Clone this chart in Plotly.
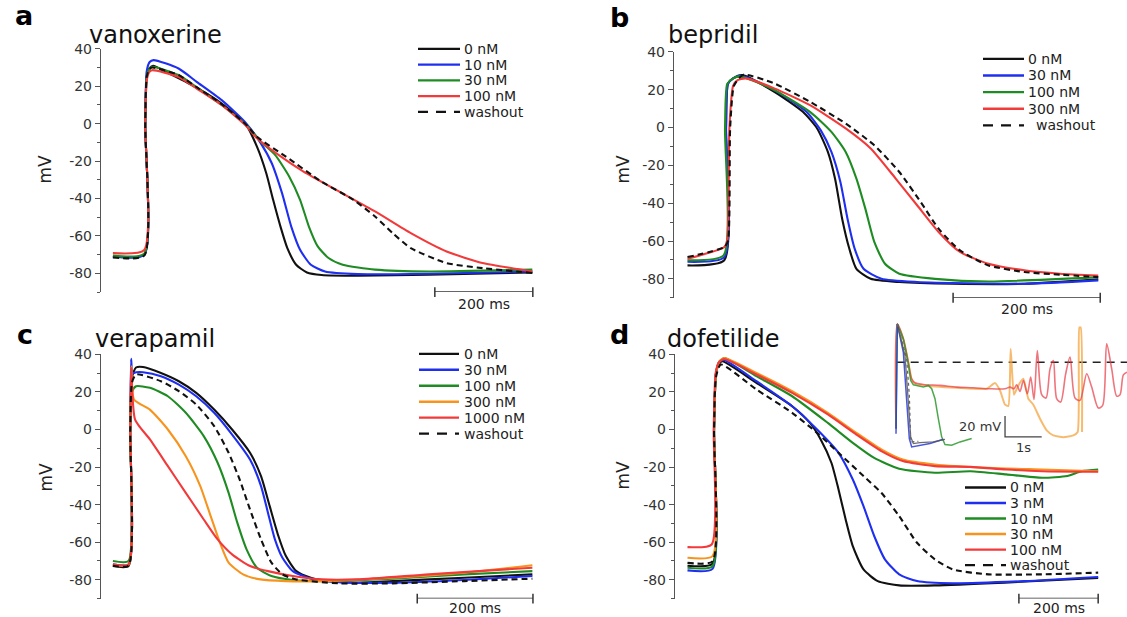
import plotly.graph_objects as go

W, H = 1127, 617
FONT = "DejaVu Sans"

# ---------------------------------------------------------------- data
TICK_VALS = [40, 20, 0, -20, -40, -60, -80]
TICK_TEXT = ["40", "20", "0", "-20", "-40", "-60", "-80"]
MINOR_VALS = [30, 10, -10, -30, -50, -70, -90]

# ---- panel a : vanoxerine (time ms, voltage mV)
A_TITLE = "vanoxerine"
A_LABELS = ["0 nM", "10 nM", "30 nM", "100 nM", "washout"]
A0_T = [0, 64, 66, 69, 74, 82, 110, 170, 222, 272, 294, 313, 327, 342, 356, 374, 396, 426, 500, 645, 856]
A0_V = [-71, -70, 0, 25, 29.5, 31, 27.5, 19.4, 10.8, -0.7, -12.3, -26.5, -40.7, -55, -66.5, -75.4, -79.5, -80.9, -81.3, -80.7, -79.5]
A1_T = [0, 64, 66, 69, 75, 83, 134, 171, 222, 272, 302, 324, 345, 364, 382, 404, 433, 500, 645, 856]
A1_V = [-71, -70, 0, 28, 33, 34, 29.5, 22.4, 12.6, 0.2, -10.5, -21, -37, -55, -67.4, -75.4, -79, -80.4, -80.2, -79]
A2_T = [0, 64, 66, 69, 74, 80, 134, 171, 222, 272, 302, 331, 360, 382, 400, 418, 440, 469, 535, 645, 856]
A2_V = [-70.5, -69.5, 0, 25, 29, 30.4, 26, 19.4, 10, -0.7, -9.6, -16.7, -28.3, -40.7, -55, -65.6, -71.8, -75.4, -78, -79, -78]
A3_T = [0, 64, 66, 69, 74, 80, 134, 171, 222, 272, 294, 338, 389, 462, 535, 608, 681, 754, 826, 856]
A3_V = [-69.2, -67.5, 0, 23, 27.5, 28.6, 25, 18.8, 10, -1.2, -7.8, -16.7, -25.6, -36.3, -46.9, -58.5, -68.3, -74.5, -77.7, -79]
A4_T = [0, 64, 66, 69, 74, 80, 134, 171, 222, 272, 294, 353, 426, 491, 535, 571, 608, 681, 754, 856]
A4_V = [-71.5, -70.5, 0, 25, 29, 30, 26, 19.5, 10.5, -0.5, -7, -17.6, -31, -40.7, -49.6, -58.5, -66.5, -74.5, -77.2, -79.8]
A_SCALE_T = [657, 857]

# ---- panel b : bepridil
B_TITLE = "bepridil"
B_LABELS = ["0 nM", "30 nM", "100 nM", "300 nM", "washout"]
B0_T = [0, 50, 52.4, 55, 62, 74.3, 118, 156.8, 176.2, 190.8, 200.5, 210.2, 219.9, 229.6, 249, 287.9, 360.7, 457.8, 558.3]
B0_V = [-72.9, -70.2, 0, 23.3, 26, 27.7, 18.9, 8.3, -0.5, -12.9, -27, -48.2, -64, -74.7, -80, -81.7, -82.6, -82.6, -80.3]
B1_T = [0, 50, 52.4, 55, 62, 72, 118, 161.7, 181, 195.6, 207.8, 217.5, 227.2, 239.3, 263.6, 312.1, 457.8, 558.3]
B1_V = [-71, -68.5, 0, 23, 26, 27.5, 19.8, 8.3, -1.4, -12.9, -28.8, -48.2, -64, -74.7, -80, -81.7, -82.6, -80.8]
B2_T = [0, 49, 51, 54, 62, 72, 118, 166.5, 195.6, 215, 229.6, 241.7, 253.9, 268.4, 287.9, 336.4, 409.2, 558.3]
B2_V = [-70.2, -67.6, 0, 23, 26, 27, 19.8, 8.3, -2.3, -12.9, -27, -42.9, -60.5, -72, -77.3, -80, -81.4, -79.1]
B3_T = [0, 50, 54, 57, 62, 68, 79, 118, 166.5, 215, 249, 283, 312.1, 341.3, 370.4, 409.2, 457.8, 506.3, 558.3]
B3_V = [-69.4, -63.2, -59.7, 0, 22, 25, 26, 20.7, 11.8, -0.5, -11.1, -27, -41.1, -55.2, -65.8, -72, -75.5, -77.3, -78.2]
B4_T = [0, 50, 55, 58, 63, 70, 77, 118, 166.5, 215, 253.9, 287.9, 317, 341.3, 370.4, 409.2, 457.8, 506.3, 558.3]
B4_V = [-68.5, -63.2, -60, 0, 22, 26, 28, 23.3, 13.6, 2.1, -9.4, -23.5, -39.4, -53.5, -65, -72.9, -76.4, -77.8, -79.1]
B_SCALE_T = [361, 561]

# ---- panel c : verapamil
C_TITLE = "verapamil"
C_LABELS = ["0 nM", "30 nM", "100 nM", "300 nM", "1000 nM", "washout"]
C0_T = [0, 27, 30, 33, 40, 52, 83, 114, 144, 175, 206, 237, 256, 271, 286, 299, 317, 342, 373, 422, 484, 607, 725]
C0_V = [-72.7, -72.7, 0, 28, 33, 33.3, 30.1, 25.7, 19.5, 10.6, 0, -12.4, -24.8, -40.8, -56.7, -67.4, -75.4, -78.9, -80.7, -81.6, -80.7, -78.9, -77.1]
C1_T = [0, 27, 30, 31.5, 34, 40, 52, 83, 114, 144, 175, 206, 237, 256, 268, 280, 293, 311, 342, 391, 484, 607, 725]
C1_V = [-71.8, -71.8, 0, 37.6, 30, 30.5, 30.5, 28.4, 23.9, 17.7, 8.9, -2.7, -16, -30.1, -44.3, -58.5, -68.3, -75.4, -79.4, -81.2, -81.6, -80.1, -78]
C2_T = [0, 27, 30, 33, 40, 64, 95, 126, 157, 181, 200, 215, 231, 249, 274, 311, 361, 484, 607, 725]
C2_V = [-70, -70, 0, 20, 23, 22.2, 17.7, 8.9, -3.5, -17.7, -33.7, -49.6, -63.8, -73.6, -78, -80.1, -80.7, -79.4, -77.1, -75.4]
C3_T = [0, 27, 30, 32, 36.4, 64, 95, 126, 151, 169, 185, 200, 225, 255, 299, 361, 484, 607, 725]
C3_V = [-72, -72, 0, 33.7, 16, 10.6, 0, -14.2, -30.1, -46.1, -60.3, -70.9, -77.1, -79.8, -80.7, -80.7, -78.9, -76.2, -72.3]
C4_T = [0, 27, 30, 31.5, 38.3, 64, 95, 126, 157, 181, 206, 237, 268, 311, 361, 422, 546, 725]
C4_V = [-71.8, -71.8, 0, 32.8, 5.3, -5.3, -19.5, -33.7, -47.9, -58.5, -66.5, -72.7, -75.4, -78, -79.8, -79.8, -77.1, -73.6]
C5_T = [0, 27, 30, 33, 40, 83, 114, 144, 175, 200, 219, 237, 256, 274, 293, 317, 391, 484, 607, 725]
C5_V = [-72.5, -72.5, 0, 25, 29.3, 25.7, 20.4, 13.3, 1.8, -12.4, -26.6, -42.6, -58.5, -70.9, -77.1, -79.8, -81.9, -81.9, -80.7, -79.4]
C_SCALE_T = [526, 726]

# ---- panel d : dofetilide
D_TITLE = "dofetilide"
D_LABELS = ["0 nM", "3 nM", "10 nM", "30 nM", "100 nM", "washout"]
D0_T = [0, 63, 67, 72, 80, 88, 174, 264, 309, 336, 363, 381, 399, 417, 444, 480, 534, 624, 800, 1036]
D0_V = [-72.5, -71.5, 0, 30, 35, 36.3, 24.8, 12.4, 3.5, -5.3, -17.7, -31.9, -47.9, -62.1, -74.5, -80.7, -83, -83, -81.5, -79]
D1_T = [0, 63, 67, 72, 80, 92, 174, 264, 327, 381, 417, 444, 471, 498, 534, 579, 669, 850, 1036]
D1_V = [-75, -74.2, 0, 30, 36, 37, 25.7, 12.4, 0, -12.4, -26.6, -40.8, -56.7, -69.1, -77.1, -80.7, -81.9, -80.7, -78.5]
D2_T = [0, 63, 67, 72, 80, 93, 174, 264, 354, 417, 471, 534, 624, 714, 804, 895, 958, 994, 1036]
D2_V = [-73.6, -72.8, 0, 30, 36, 38, 28.4, 17.7, 3.5, -7.1, -15.1, -20.9, -23, -22.2, -23.9, -25.7, -24.8, -22.2, -21.3]
D3_T = [0, 63, 67, 72, 80, 93, 174, 264, 354, 426, 489, 543, 624, 759, 895, 1036]
D3_V = [-68.3, -67.4, 0, 30, 36, 38.1, 30.1, 20.4, 8.9, -1.8, -10.6, -16, -18.6, -20.4, -21.3, -22.2]
D4_T = [0, 61, 66, 71, 80, 93, 174, 264, 354, 426, 489, 543, 624, 714, 804, 895, 1036]
D4_V = [-62.6, -61.2, 0, 30, 36, 37.5, 29.3, 19.5, 8, -2.7, -11.5, -16.8, -19.5, -19.9, -21.3, -22.2, -22.5]
D5_T = [0, 63, 67, 72, 84, 174, 264, 327, 381, 444, 489, 534, 579, 624, 669, 759, 895, 1036]
D5_V = [-71, -70.2, 0, 28, 34.6, 21.3, 8.9, -1.8, -12.4, -24.8, -33.7, -46.1, -60.3, -69.1, -74.5, -77.1, -77.1, -76.2]
D_SCALE_T = [836, 1036]

# ---- panel d inset (time s, voltage mV)
IN_RED_T = [-0.018, 0.018, 0.182, 0.318, 0.409, 0.5, 0.727, 1.182, 1.636, 2.091, 2.545, 2.955, 3.091, 3.2, 3.273,
            3.364, 3.455, 3.564, 3.655, 3.745, 3.836, 3.955, 4.073, 4.182, 4.273, 4.364, 4.473, 4.609, 4.727, 4.864,
            5.0, 5.182, 5.318, 5.5, 5.618, 5.727, 5.864, 6.0, 6.091, 6.182, 6.282]
IN_RED_V = [-63.5, 36.5, 22.2, 0, -15.9, -19.7, -21.3, -22.2, -23.8, -24.4, -25.4, -25.4, -23.8, -25.4, -21.6,
            -27.9, -17.5, -30.2, -14.3, -35.6, 11.1, -31.1, -34.3, -6.4, 1.6, -34.9, -38.1, -11.1, 4.8, -34.3,
            -36.5, -11.1, -23.8, -43.8, -41.3, 17.5, -6.4, -32.4, -31.1, -12.1, -9.5]
IN_ORANGE_T = [-0.018, 0.018, 0.182, 0.318, 0.409, 0.5, 0.727, 1.636, 2.455, 2.682, 2.818, 2.955, 3.045, 3.109,
               3.2, 3.318, 3.455, 3.591, 3.727, 3.909, 4.091, 4.273, 4.545, 4.818, 4.936, 4.982, 5.018, 5.055]
IN_ORANGE_V = [-63.5, 36.5, 22.2, 0, -16.5, -20.6, -22.2, -24.4, -25.4, -20, -27, -40.6, -41.9, 12.7,
               -31.1, -22.2, -15.9, -34.9, -40.6, -54, -65.1, -69.9, -71.8, -69.9, -66.7, 33.3, 33.3, -66.7]
IN_GREEN_T = [-0.018, 0.018, 0.182, 0.318, 0.382, 0.455, 0.727, 0.864, 0.955, 1.045, 1.136, 1.227, 1.318, 1.5, 1.727, 2.045]
IN_GREEN_V = [-63.5, 36.5, 22.2, -1.6, -17.5, -21.6, -23.8, -22.2, -25.4, -34.9, -54, -71.4, -78.7, -79.4, -76.2, -73]
IN_BLUE_T = [-0.018, 0.018, 0.182, 0.273, 0.345, 0.409, 0.545, 0.909, 1.273]
IN_BLUE_V = [-68.3, 36.5, 9.5, -38.1, -73, -81, -80, -77.8, -73.7]
IN_BLACK_T = [0.018, 0.227, 0.318, 0.382, 0.455, 0.636, 1.0, 1.318]
IN_BLACK_V = [36.5, 6.4, -38.1, -71.4, -77.8, -76.8, -76.2, -73.7]
IN_WASH_T = [0.018, 0.273, 0.345, 0.382, 0.591]
IN_WASH_V = [36.5, 3.2, -31.8, -76.2, -75.6]
IN_REF_T = [0.0, 6.3]
IN_REF_V = [0, 0]
IN_SCALE_T = [2.955, 2.955, 3.955]
IN_SCALE_V = [-51.4, -71.4, -71.4]
IN_SCALE_TEXT = ["20 mV", "1s"]

SCALE_TEXT = "200 ms"
SCALE_V = -90

# ---------------------------------------------------------------- styles
BLACK, BLUE, GREEN, ORANGE, RED = "#111111", "#1f2ff0", "#1e8c22", "#f7941d", "#f23a3a"
WASH = dict(color="#111111", dash="6px,4px")
STY_A = [dict(color=BLACK), dict(color=BLUE), dict(color=GREEN), dict(color=RED), WASH]
STY_C = [dict(color=BLACK), dict(color=BLUE), dict(color=GREEN), dict(color=ORANGE), dict(color=RED), WASH]

fig = go.Figure()


def PY(p):
    # pixel row (from top) -> corrected row
    return (p - 6.0) * 617.0 / 611.0


def xdom(p0, p1):
    return [p0 / W, p1 / W]


def ydom(top, bottom):
    return [1 - PY(bottom) / H, 1 - PY(top) / H]


def yp(p):
    return 1 - PY(p) / H


# panel geometry (pixels)
PANELS = [
    # xa, ya, axis px, t=0 px, px per ms, right px, top px, bottom px
    ("x", "y", 101, 112.9, 0.490, 540, 47.0, 291.0),
    ("x2", "y2", 674, 687.5, 0.7357, 1110, 50.0, 296.7),
    ("x3", "y3", 101, 112.9, 0.5786, 540, 353.5, 598.5),
    ("x4", "y4", 675, 687.5, 0.3964, 1110, 353.5, 598.5),
]

yaxis_common = dict(
    range=[-90, 40], showgrid=False, zeroline=False, showline=True,
    linecolor="#555", linewidth=1.4,
    tickmode="array", tickvals=TICK_VALS, ticktext=TICK_TEXT,
    ticks="outside", ticklen=5, tickwidth=1.2, tickcolor="#555",
    tickfont=dict(family=FONT, size=14, color="#333"),
    minor=dict(tickmode="array", tickvals=MINOR_VALS, ticks="outside",
               ticklen=3, tickwidth=1, tickcolor="#555"),
    fixedrange=True,
)

layout_axes = {}
for i, (xa, ya, axpx, t0px, pxms, rpx, top, bot) in enumerate(PANELS):
    n = "" if i == 0 else str(i + 1)
    layout_axes["xaxis" + n] = dict(
        domain=xdom(axpx, rpx), range=[(axpx - t0px) / pxms, (rpx - t0px) / pxms],
        visible=False, anchor=ya, fixedrange=True)
    layout_axes["yaxis" + n] = dict(domain=ydom(top, bot), anchor=xa, **yaxis_common)

# inset axes
layout_axes["xaxis5"] = dict(domain=xdom(890, 1127), range=[(890 - 896.67) / 36.67, (1127 - 896.67) / 36.67],
                             visible=False, anchor="y5", fixedrange=True)
layout_axes["yaxis5"] = dict(domain=ydom(318, 448), range=[-82.55, 41.3], visible=False,
                             anchor="x5", fixedrange=True)


def add_curve(t, v, sty, xa, ya, width=2.1, opacity=1.0):
    fig.add_trace(go.Scatter(
        x=t, y=v, mode="lines", xaxis=xa, yaxis=ya, opacity=opacity,
        line=dict(color=sty["color"], width=width, dash=sty.get("dash", "solid"),
                  shape="spline", smoothing=0.6),
        showlegend=False, hoverinfo="skip"))


panel_data = [
    ([(A0_T, A0_V), (A1_T, A1_V), (A2_T, A2_V), (A3_T, A3_V), (A4_T, A4_V)], STY_A),
    ([(B0_T, B0_V), (B1_T, B1_V), (B2_T, B2_V), (B3_T, B3_V), (B4_T, B4_V)], STY_A),
    ([(C0_T, C0_V), (C1_T, C1_V), (C2_T, C2_V), (C3_T, C3_V), (C4_T, C4_V), (C5_T, C5_V)], STY_C),
    ([(D0_T, D0_V), (D1_T, D1_V), (D2_T, D2_V), (D3_T, D3_V), (D4_T, D4_V), (D5_T, D5_V)], STY_C),
]
for (xa, ya, *_), (curves, stys) in zip(PANELS, panel_data):
    for (t, v), s in zip(curves, stys):
        add_curve(t, v, s, xa, ya)

# scale bars
annotations = []
for (xa, ya, *_), st, ty in zip(PANELS, [A_SCALE_T, B_SCALE_T, C_SCALE_T, D_SCALE_T],
                                [303, 308, 608, 608]):
    fig.add_trace(go.Scatter(
        x=st, y=[SCALE_V, SCALE_V], mode="lines+markers", xaxis=xa, yaxis=ya, cliponaxis=False,
        line=dict(color="#333", width=1.5),
        marker=dict(symbol="line-ns-open", size=7, line=dict(color="#333", width=1.5)),
        showlegend=False, hoverinfo="skip"))
    annotations.append(dict(x=(st[0] + st[1]) / 2, xref=xa, y=yp(ty), yref="paper",
                            text=SCALE_TEXT, showarrow=False, xanchor="center", yanchor="middle",
                            font=dict(family=FONT, size=14, color="#222")))

# inset traces
fig.add_trace(go.Scatter(x=IN_REF_T, y=IN_REF_V, mode="lines", xaxis="x5", yaxis="y5",
                         line=dict(color="#222", width=1.5, dash="8px,6px"),
                         showlegend=False, hoverinfo="skip"))
fig.add_trace(go.Scatter(x=IN_ORANGE_T, y=IN_ORANGE_V, mode="lines", xaxis="x5", yaxis="y5",
                         opacity=0.75, line=dict(color="#f5a540", width=2.0, shape="spline", smoothing=0.5),
                         showlegend=False, hoverinfo="skip"))
fig.add_trace(go.Scatter(x=IN_RED_T, y=IN_RED_V, mode="lines", xaxis="x5", yaxis="y5",
                         opacity=0.7, line=dict(color="#e83b45", width=1.6, shape="spline", smoothing=0.8),
                         showlegend=False, hoverinfo="skip"))
fig.add_trace(go.Scatter(x=IN_GREEN_T, y=IN_GREEN_V, mode="lines", xaxis="x5", yaxis="y5",
                         opacity=0.85, line=dict(color="#2f9a2f", width=1.5),
                         showlegend=False, hoverinfo="skip"))
fig.add_trace(go.Scatter(x=IN_BLUE_T, y=IN_BLUE_V, mode="lines", xaxis="x5", yaxis="y5",
                         opacity=0.85, line=dict(color="#2a3ad8", width=1.5),
                         showlegend=False, hoverinfo="skip"))
fig.add_trace(go.Scatter(x=IN_BLACK_T, y=IN_BLACK_V, mode="lines", xaxis="x5", yaxis="y5",
                         opacity=0.85, line=dict(color="#555", width=1.3),
                         showlegend=False, hoverinfo="skip"))
fig.add_trace(go.Scatter(x=IN_WASH_T, y=IN_WASH_V, mode="lines", xaxis="x5", yaxis="y5",
                         line=dict(color="#666", width=1.3, dash="dot"),
                         showlegend=False, hoverinfo="skip"))
fig.add_trace(go.Scatter(x=IN_SCALE_T, y=IN_SCALE_V, mode="lines", xaxis="x5", yaxis="y5",
                         line=dict(color="#444", width=1.3), showlegend=False, hoverinfo="skip"))
annotations.append(dict(x=IN_SCALE_T[0], xref="x5", y=(IN_SCALE_V[0] + IN_SCALE_V[1]) / 2, yref="y5",
                        text=IN_SCALE_TEXT[0], showarrow=False, xanchor="right", yanchor="middle", xshift=-2,
                        font=dict(family=FONT, size=13, color="#333")))
annotations.append(dict(x=(IN_SCALE_T[1] + IN_SCALE_T[2]) / 2, xref="x5", y=IN_SCALE_V[2], yref="y5",
                        text=IN_SCALE_TEXT[1], showarrow=False, xanchor="center", yanchor="top", yshift=-1,
                        font=dict(family=FONT, size=13, color="#333")))

# ---------------------------------------------------------------- legends (manual)
shapes = []


def legend(labels, stys, x0, x1, xt, y_first, step, xt_wash=None):
    for k, (lab, s) in enumerate(zip(labels, stys)):
        yy = yp(y_first + k * step)
        dash = "10px,8px" if "dash" in s else "solid"
        shapes.append(dict(type="line", xref="paper", yref="paper", x0=x0 / W, x1=x1 / W, y0=yy, y1=yy,
                           line=dict(color=s["color"], width=2.4, dash=dash)))
        xx = xt_wash if (xt_wash and lab == "washout") else xt
        annotations.append(dict(x=xx / W, y=yy, xref="paper", yref="paper", text=lab, showarrow=False,
                                xanchor="left", yanchor="middle",
                                font=dict(family=FONT, size=14, color="#222")))


legend(A_LABELS, STY_A, 418, 460, 462, 47, 15.8)
legend(B_LABELS, STY_A, 983, 1024, 1026, 57, 16.7, xt_wash=1034)
legend(C_LABELS, STY_C, 419, 459, 462, 353, 16.0)
legend(D_LABELS, STY_C, 965, 1006, 1008, 487, 15.6)

# ---------------------------------------------------------------- titles
for letter, (lx, ly), title, (tx, ty), (mx, my) in [
    ("a", (24, 14), A_TITLE, (87, 33), (45, 168)),
    ("b", (619, 16), B_TITLE, (666, 33), (623, 168)),
    ("c", (25, 334), C_TITLE, (93, 338), (46, 476)),
    ("d", (619, 334), D_TITLE, (665, 338), (623, 475)),
]:
    annotations.append(dict(x=lx / W, y=yp(ly), xref="paper", yref="paper", text="<b>%s</b>" % letter,
                            showarrow=False, xanchor="center", yanchor="middle",
                            font=dict(family=FONT, size=27, color="#000")))
    annotations.append(dict(x=tx / W, y=yp(ty), xref="paper", yref="paper", text=title,
                            showarrow=False, xanchor="left", yanchor="middle",
                            font=dict(family=FONT, size=24, color="#111")))
    annotations.append(dict(x=mx / W, y=yp(my), xref="paper", yref="paper", text="mV", textangle=-90,
                            showarrow=False, xanchor="center", yanchor="middle",
                            font=dict(family=FONT, size=17, color="#222")))

fig.update_layout(
    width=W, height=H, margin=dict(l=0, r=0, t=0, b=0),
    paper_bgcolor="white", plot_bgcolor="white",
    showlegend=False, annotations=annotations, shapes=shapes,
    **layout_axes,
)

fig.write_html("out.html", config={"displayModeBar": False},
               post_script="document.body.style.margin='0px';document.body.style.padding='0px';"
                           "document.documentElement.style.overflow='hidden';")
